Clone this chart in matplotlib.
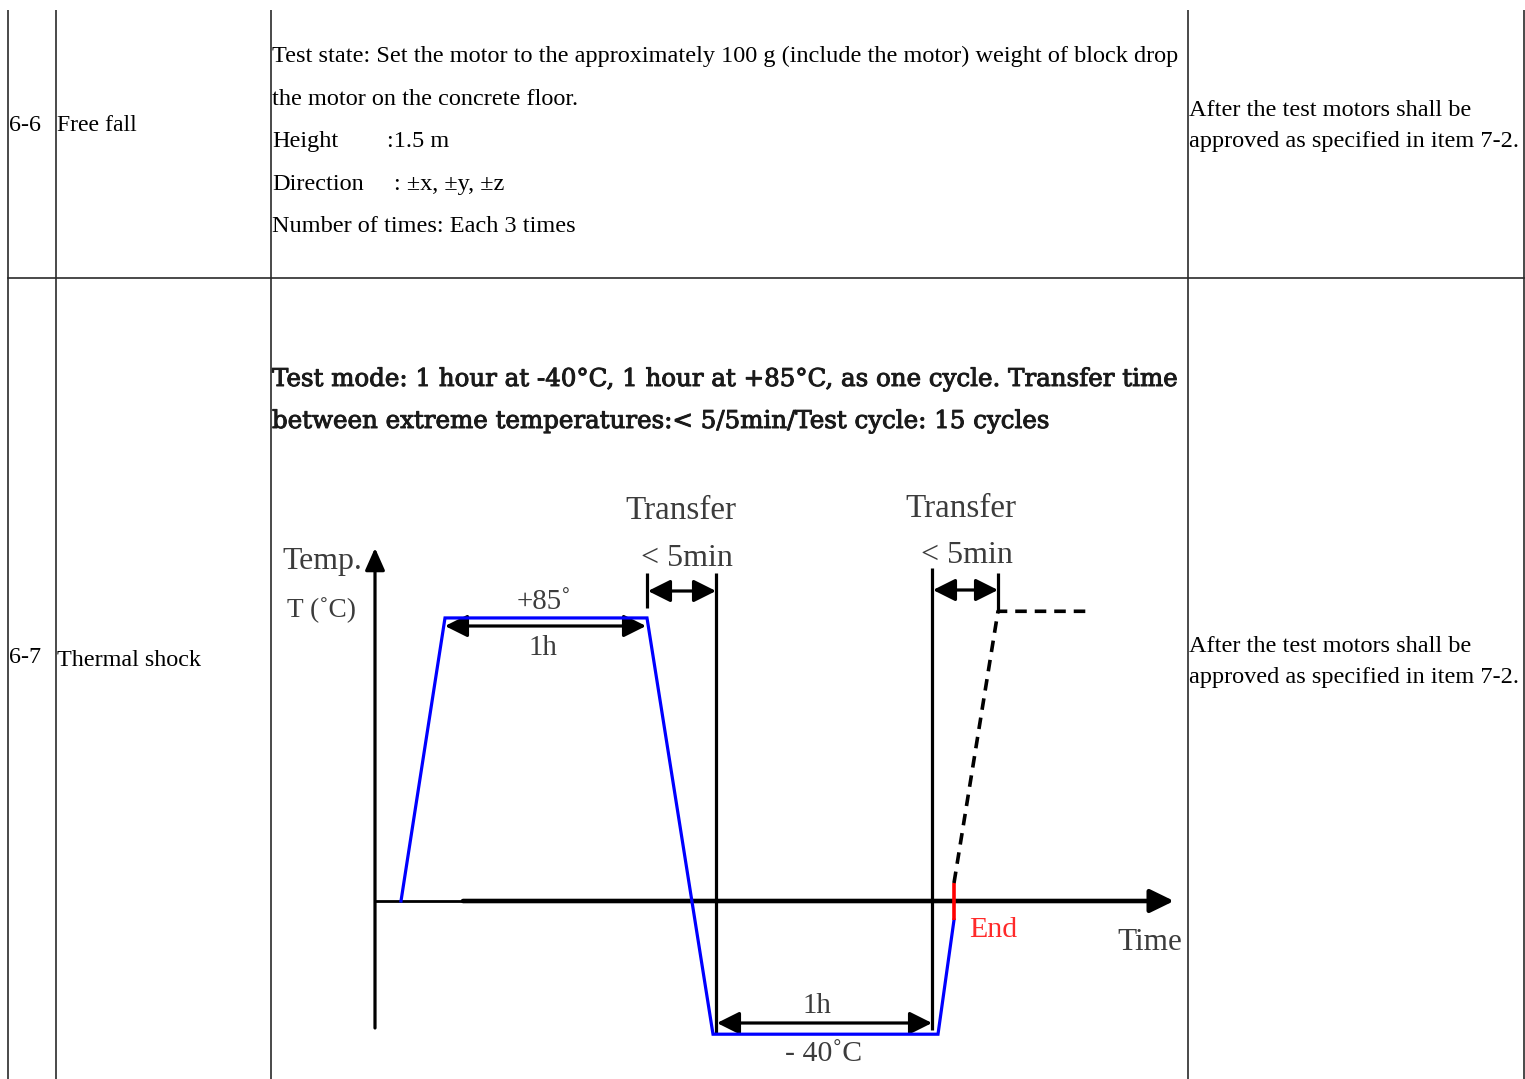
import matplotlib
matplotlib.use("Agg")
import matplotlib.pyplot as plt
import matplotlib.patheffects as pe

# ---------------- data ----------------
row_ids = ["6-6", "6-7"]
row_names = ["Free fall", "Thermal shock"]
freefall_lines = [
    "Test state: Set the motor to the approximately 100 g (include the motor) weight of block drop",
    "the motor on the concrete floor.",
]
freefall_params = [("Height", ":1.5 m"), ("Direction", ": \u00b1x, \u00b1y, \u00b1z")]
freefall_last = "Number of times: Each 3 times"
thermal_lines = [
    "Test mode: 1 hour at -40\u00b0C, 1 hour at +85\u00b0C, as one cycle. Transfer time",
    "between extreme temperatures:< 5/5min/Test cycle: 15 cycles",
]
result_lines = ["After the test motors shall be", "approved as specified in item 7-2."]

# temperature profile (time in schematic units, temperature in degC)
time_pts = [401, 445, 647, 713, 938, 954]
temp_pts = [0, 85, 85, -40, -40, -5.7]
end_time = [954, 954]
end_temp = [-5.7, 5.4]
next_time = [954, 998, 1087]
next_temp = [5.4, 87, 87]
hot_label, cold_label = "+85\u02da", "- 40\u02daC"

# ---------------- figure ----------------
W, H = 1525, 1079
fig = plt.figure(figsize=(W / 100, H / 100), dpi=100)
ax = fig.add_axes([0, 0, 1, 1])
ax.set_xlim(0, W)
ax.set_ylim(H, 0)
ax.axis("off")
r = fig.canvas.get_renderer()

SERIF = ["Liberation Serif", "DejaVu Serif"]


def fit(x, y, s, w, ha="left", size=16, **kw):
    kw.setdefault("family", SERIF)
    t = ax.text(x, y, s, fontsize=size, ha=ha, va="baseline", **kw)
    bb = t.get_window_extent(renderer=r)
    t.set_fontsize(size * w / bb.width)
    return t


# table grid
lc = "#2a2a2a"
for x in [8, 56, 271, 1188, 1524]:
    ax.plot([x, x], [10, H], color=lc, lw=1.2, solid_capstyle="butt")
ax.plot([8, 1524], [278, 278], color=lc, lw=1.2)

# row 1
first = fit(272, 62, freefall_lines[0], 906)
TS = first.get_fontsize()
fit(9, 131, row_ids[0], 32)
fit(57, 131, row_names[0], 80)
ax.text(272, 105, freefall_lines[1], fontsize=TS, family=SERIF, va="baseline")
ax.text(272, 147, freefall_params[0][0], fontsize=TS, family=SERIF, va="baseline")
ax.text(387, 147, freefall_params[0][1], fontsize=TS, family=SERIF, va="baseline")
ax.text(272, 190, freefall_params[1][0], fontsize=TS, family=SERIF, va="baseline")
ax.text(394, 190, freefall_params[1][1], fontsize=TS, family=SERIF, va="baseline")
ax.text(272, 232, freefall_last, fontsize=TS, family=SERIF, va="baseline")
fit(1189, 116, result_lines[0], 281)
fit(1189, 147, result_lines[1], 329)

# row 2
fit(9, 663, row_ids[1], 32)
fit(57, 666, row_names[1], 144)
heavy = [pe.withStroke(linewidth=0.7, foreground="#1a1a1a")]
tm = fit(272, 386, thermal_lines[0], 908, family="DejaVu Serif", color="#1a1a1a")
tm.set_path_effects(heavy)
ax.text(272, 428, thermal_lines[1], fontsize=tm.get_fontsize(), family="DejaVu Serif",
        color="#1a1a1a", va="baseline", path_effects=heavy)
fit(1189, 652, result_lines[0], 281)
fit(1189, 683, result_lines[1], 329)

# ---------------- diagram ----------------
k = 3.33  # px per degC
y0 = 901
ax2 = fig.add_axes([0, 0, 1, 1])
ax2.set_xlim(0, W)
ax2.set_ylim((y0 - H) / k, y0 / k)
ax2.axis("off")

ax2.plot(time_pts, temp_pts, color="#0000ff", lw=2.3, solid_joinstyle="miter")
ax2.plot(end_time, end_temp, color="#ff0000", lw=2.6, solid_capstyle="butt")
ax2.plot(next_time, next_temp, color="black", lw=2.6, ls=(0, (3.2, 2.2)),
         dash_capstyle="butt")

# axes
ax.plot([375, 463], [901, 901], color="black", lw=2.0, zorder=1)
ax.annotate("", xy=(1174, 901), xytext=(463, 901),
            arrowprops=dict(arrowstyle="-|>,head_length=0.45,head_width=0.22",
                            mutation_scale=32, lw=3.3, color="black",
                            shrinkA=0, shrinkB=0), zorder=1)
ax.annotate("", xy=(375, 548), xytext=(375, 1028),
            arrowprops=dict(arrowstyle="-|>,head_length=0.45,head_width=0.2",
                            mutation_scale=30, lw=2.3, color="black",
                            shrinkA=0, shrinkB=0))

# transfer guide lines
for x, ya, yb in [(647, 573, 608), (716, 573, 1034), (932, 568, 1030), (998, 573, 612)]:
    ax.plot([x, x], [ya, yb], color="black", lw=2.3, solid_capstyle="butt")

dbl = dict(arrowstyle="<|-|>,head_length=0.4,head_width=0.2", mutation_scale=34,
           lw=2.3, color="black", shrinkA=0, shrinkB=0)
for xa, xb, y in [(445, 646, 626), (717, 932, 1023), (648, 716, 591), (933, 998, 590)]:
    ax.annotate("", xy=(xb, y), xytext=(xa, y), arrowprops=dbl)

gc = "#3c3c3c"
fit(680.5, 519, "Transfer", 111, ha="center", color=gc)
fit(687, 566, "< 5min", 92, ha="center", color=gc)
fit(960.5, 517, "Transfer", 111, ha="center", color=gc)
fit(967, 563, "< 5min", 92, ha="center", color=gc)
fit(282, 569, "Temp.", 80, color=gc)
fit(321.5, 617, "T (\u02daC)", 69, ha="center", color=gc)
fit(544.5, 609, hot_label, 55, ha="center", color=gc)
fit(542.5, 655, "1h", 29, ha="center", color=gc)
fit(817, 1013, "1h", 29, ha="center", color=gc)
fit(823.5, 1061, cold_label, 77, ha="center", color=gc)
fit(969, 937, "End", 48, color="#ff2a2a")
fit(1117, 950, "Time", 65, color=gc)

fig.savefig("out.png", dpi=100)
